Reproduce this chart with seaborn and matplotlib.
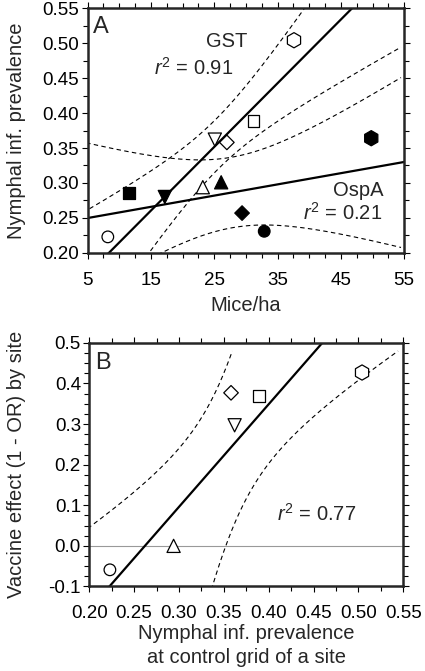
import numpy as np
import pandas as pd
import seaborn as sns
import matplotlib.pyplot as plt
from matplotlib.ticker import MultipleLocator, FormatStrFormatter

# six sites, one marker shape each
# open marker = GST (control) grid, filled marker = OspA (vaccine) grid
sites = ["site 1", "site 2", "site 3", "site 4", "site 5", "site 6"]
site_markers = ["o", "^", "v", "D", "s", "h"]
site_sizes = [70, 90, 90, 55, 72, 120]
mice_ctrl = [8.2, 23.2, 25.1, 27.0, 31.2, 37.6]
mice_vacc = [32.9, 26.1, 17.2, 29.4, 11.6, 49.8]
prev_ctrl = [0.223, 0.294, 0.362, 0.358, 0.389, 0.504]
prev_vacc = [0.231, 0.301, 0.280, 0.257, 0.286, 0.364]
vacc_effect = [-0.059, 0.0, 0.297, 0.377, 0.369, 0.427]

mice_ticks = [5, 15, 25, 35, 45, 55]

T_975 = 2.776  # t quantile, df = 4 (six sites)


def fit_band(x, y, grid):
    # least squares line and 95% band of the mean
    x = np.asarray(x)
    y = np.asarray(y)
    n = len(x)
    b, a = np.polyfit(x, y, 1)
    s = np.sqrt(((y - (a + b * x)) ** 2).sum() / (n - 2))
    se = s * np.sqrt(1 / n + (grid - x.mean()) ** 2 / ((x - x.mean()) ** 2).sum())
    fit = a + b * grid
    return fit, fit - T_975 * se, fit + T_975 * se


sns.set_style("ticks")
plt.rcParams["font.family"] = ["Liberation Sans", "DejaVu Sans"]
plt.rcParams["mathtext.fontset"] = "custom"
plt.rcParams["mathtext.rm"] = "Liberation Sans"
plt.rcParams["mathtext.it"] = "Liberation Sans:italic"
plt.rcParams["axes.unicode_minus"] = False

fig = plt.figure(figsize=(4.25, 6.71), dpi=100)
axA = fig.add_axes([0.206, 0.623, 0.745, 0.365])
axB = fig.add_axes([0.210, 0.126, 0.739, 0.363])

marker_map = dict(zip(sites, site_markers))
size_map = dict(zip(sites, site_sizes))
ctrl = pd.DataFrame({"site": sites, "mice": mice_ctrl, "prev": prev_ctrl, "effect": vacc_effect})
vacc = pd.DataFrame({"site": sites, "mice": mice_vacc, "prev": prev_vacc})

dash = (0, (4, 3))


def draw_points(data, x, y, face, ax):
    sns.scatterplot(data=data, x=x, y=y, style="site", markers=marker_map,
                    size="site", sizes=size_map, color=face, edgecolor="black",
                    linewidth=0.9, legend=False, zorder=3, ax=ax)


# ---- panel A
line_x = np.linspace(0, 60, 200)
band_x = np.linspace(0, 54.5, 200)
for d in (ctrl, vacc):
    fit, _, _ = fit_band(d["mice"], d["prev"], line_x)
    sns.lineplot(x=line_x, y=fit, color="black", lw=1.6, ax=axA)
    _, lo, hi = fit_band(d["mice"], d["prev"], band_x)
    sns.lineplot(x=band_x, y=lo, color="black", lw=0.8, linestyle=dash, ax=axA)
    sns.lineplot(x=band_x, y=hi, color="black", lw=0.8, linestyle=dash, ax=axA)

draw_points(ctrl, "mice", "prev", "white", axA)
draw_points(vacc, "mice", "prev", "black", axA)

axA.set_xlim(5, 55)
axA.set_ylim(0.20, 0.55)
axA.set_xticks(mice_ticks)
axA.xaxis.set_minor_locator(MultipleLocator(2.5))
axA.yaxis.set_major_locator(MultipleLocator(0.05))
axA.yaxis.set_minor_locator(MultipleLocator(0.025))
axA.yaxis.set_major_formatter(FormatStrFormatter("%.2f"))
axA.set_xlabel("Mice/ha", fontsize=14.5)
axA.set_ylabel("Nymphal inf. prevalence", fontsize=14.5)
axA.xaxis.set_label_coords(0.5, -0.175)
axA.yaxis.set_label_coords(-0.195, 0.5)
axA.text(27, 0.502, "GST", ha="center", va="center", fontsize=14.5)
axA.text(21.8, 0.464, r"$r^2$ = 0.91", ha="center", va="center", fontsize=14.5)
axA.text(47.8, 0.289, "OspA", ha="center", va="center", fontsize=14.5)
axA.text(45.3, 0.258, r"$r^2$ = 0.21", ha="center", va="center", fontsize=14.5)
axA.text(0.017, 0.966, "A", transform=axA.transAxes, ha="left", va="top", fontsize=17)

# ---- panel B: prevalence regressed on vaccine effect, drawn sideways
line_y = np.linspace(-0.3, 0.7, 200)
band_y = np.linspace(-0.2, 0.48, 200)
fit, _, _ = fit_band(ctrl["effect"], ctrl["prev"], line_y)
sns.lineplot(x=fit, y=line_y, sort=False, color="black", lw=1.6, ax=axB)
_, lo, hi = fit_band(ctrl["effect"], ctrl["prev"], band_y)
sns.lineplot(x=lo, y=band_y, sort=False, color="black", lw=0.8, linestyle=dash, ax=axB)
sns.lineplot(x=hi, y=band_y, sort=False, color="black", lw=0.8, linestyle=dash, ax=axB)
axB.axhline(0, color="0.6", lw=0.8, zorder=0)

draw_points(ctrl, "prev", "effect", "white", axB)

axB.set_xlim(0.20, 0.55)
axB.set_ylim(-0.1, 0.5)
axB.xaxis.set_major_locator(MultipleLocator(0.05))
axB.xaxis.set_minor_locator(MultipleLocator(0.025))
axB.xaxis.set_major_formatter(FormatStrFormatter("%.2f"))
axB.yaxis.set_major_locator(MultipleLocator(0.1))
axB.yaxis.set_minor_locator(MultipleLocator(0.025))
axB.yaxis.set_major_formatter(FormatStrFormatter("%.1f"))
axB.set_xlabel("Nymphal inf. prevalence\nat control grid of a site", fontsize=14.5,
               linespacing=1.3)
axB.set_ylabel("Vaccine effect (1 - OR) by site", fontsize=14.5)
axB.xaxis.set_label_coords(0.5, -0.155)
axB.yaxis.set_label_coords(-0.2, 0.5)
axB.text(0.453, 0.079, r"$r^2$ = 0.77", ha="center", va="center", fontsize=14.5)
axB.text(0.018, 0.962, "B", transform=axB.transAxes, ha="left", va="top", fontsize=17)

for ax in (axA, axB):
    for sp in ax.spines.values():
        sp.set_visible(True)
        sp.set_linewidth(1.8)
    ax.tick_params(which="both", direction="out", top=True, right=True,
                   labeltop=False, labelright=False, width=0.8, colors="black")
    ax.tick_params(which="major", length=4.5, labelsize=13.5)
    ax.tick_params(which="minor", length=3.5)
    ax.tick_params(axis="x", which="major", pad=9)
    ax.tick_params(axis="y", which="major", pad=1.5)

fig.savefig("out.png", dpi=100)
